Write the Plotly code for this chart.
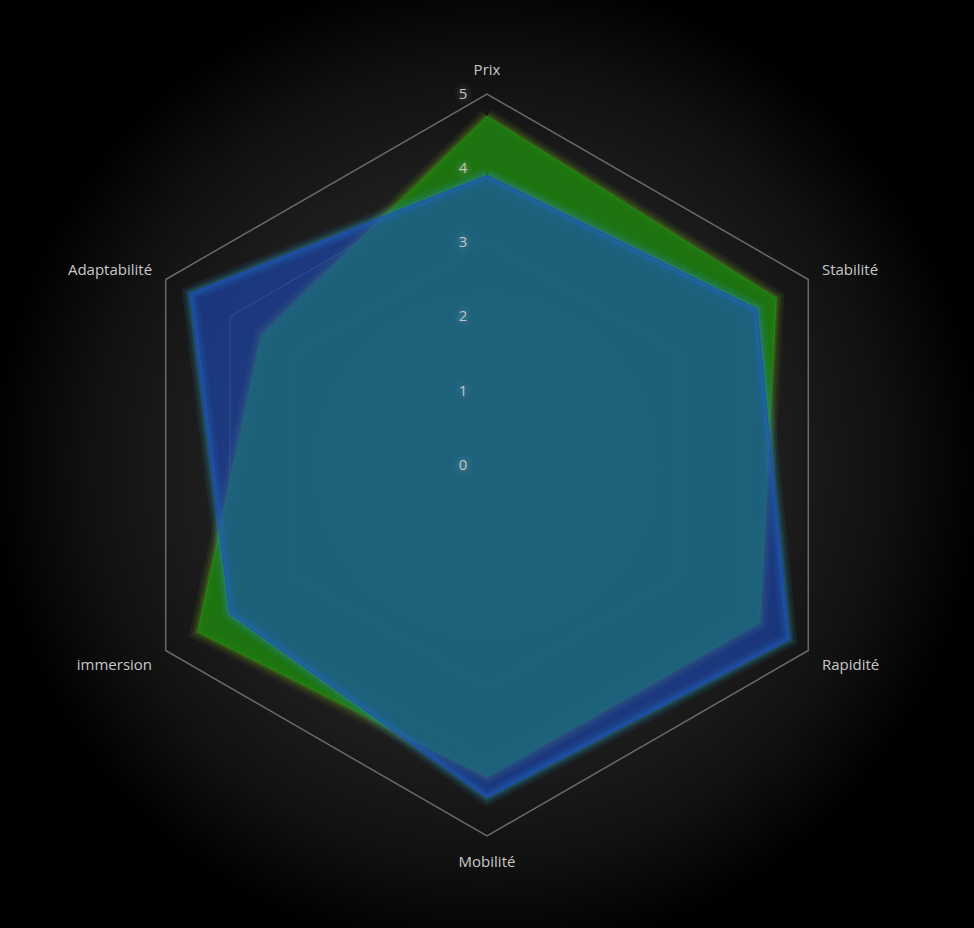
import base64
import plotly.graph_objects as go

categories = ["Prix", "Stabilité", "Rapidité", "Mobilité", "immersion", "Adaptabilité"]
serie_verte = [4.7, 4.5, 4.24, 4.2, 4.5, 3.5]
serie_bleue = [3.9, 4.2, 4.7, 4.48, 4.0, 4.62]
radial_ticks = [0, 1, 2, 3, 4, 5]

W, H = 974, 928
CX, CY, R = 487, 465, 371

svg = f'''<svg xmlns="http://www.w3.org/2000/svg" width="{W}" height="{H}">
<defs><radialGradient id="g" gradientUnits="userSpaceOnUse" cx="{CX}" cy="{CY}" r="495">
<stop offset="0" stop-color="#363636"/><stop offset="0.6" stop-color="#1c1c1c"/>
<stop offset="0.8" stop-color="#111111"/><stop offset="1" stop-color="#000000"/>
</radialGradient></defs><rect width="{W}" height="{H}" fill="url(#g)"/></svg>'''
bg_uri = "data:image/svg+xml;base64," + base64.b64encode(svg.encode()).decode()


def closed(vals):
    return list(vals) + [vals[0]]


theta = closed(categories)
fig = go.Figure()


def add_series(vals, fill, line, glow):
    for w, a in [(16, 0.12), (10, 0.18), (5, 0.28)]:
        fig.add_trace(go.Scatterpolar(r=closed(vals), theta=theta, mode="lines",
                                      line=dict(color=f"rgba({glow},{a})", width=w),
                                      hoverinfo="skip", showlegend=False))
    fig.add_trace(go.Scatterpolar(r=closed(vals), theta=theta, mode="lines", fill="toself",
                                  fillcolor=fill, line=dict(color=line, width=1),
                                  showlegend=False))


add_series(serie_verte, "rgba(30,125,15,0.9)", "rgba(40,140,20,0.9)", "90,140,30")
add_series(serie_bleue, "rgba(28,80,210,0.55)", "rgba(30,70,200,0.8)", "40,140,170")

fig.update_layout(
    width=W, height=H,
    margin=dict(l=0, r=0, t=0, b=0),
    paper_bgcolor="#000000",
    plot_bgcolor="rgba(0,0,0,0)",
    showlegend=False,
    images=[dict(source=bg_uri, xref="paper", yref="paper", x=0, y=1, sizex=1, sizey=1,
                 xanchor="left", yanchor="top", sizing="stretch", layer="below")],
    polar=dict(
        domain=dict(x=[(CX - R) / W, (CX + R) / W],
                    y=[(H - CY - R) / H, (H - CY + R) / H]),
        bgcolor="rgba(0,0,0,0)",
        gridshape="linear",
        angularaxis=dict(direction="clockwise", rotation=90,
                         showgrid=False, showline=True, linecolor="#6a6a6a", linewidth=1.5,
                         ticks="outside", ticklen=12, tickcolor="rgba(0,0,0,0)",
                         tickfont=dict(family="Open Sans", size=15, color="#c8c8c8")),
        radialaxis=dict(range=[0, 5], tickvals=radial_ticks, angle=90, tickangle=90,
                        side="counterclockwise",
                        showline=False, ticks="outside", ticklen=14,
                        tickcolor="rgba(0,0,0,0)",
                        gridcolor="rgba(120,120,120,0.55)", gridwidth=1,
                        tickfont=dict(family="Open Sans", size=15, color="#c4c4c4",
                                      shadow="0 0 8px rgba(255,255,255,0.6)")),
    ),
)

fig.write_html("out.html", config={"displayModeBar": False},
               post_script="document.body.style.margin='0';")
